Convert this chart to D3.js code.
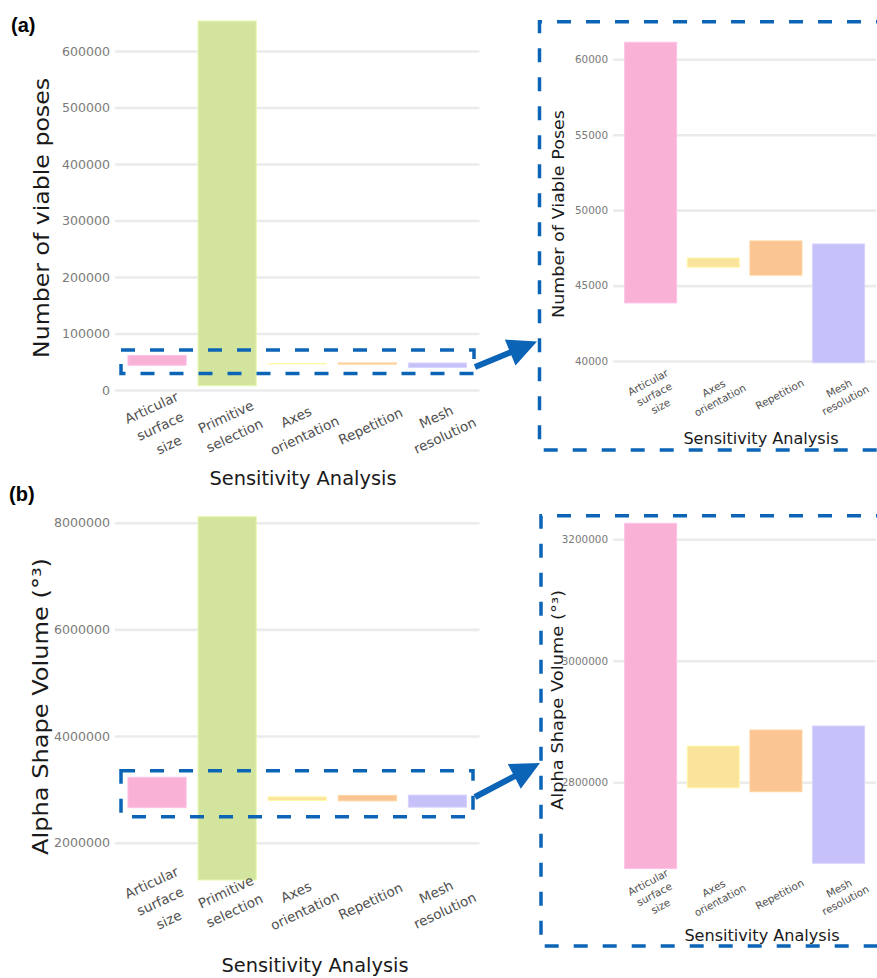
<!DOCTYPE html>
<html>
<head>
<meta charset="utf-8">
<script src="https://cdn.jsdelivr.net/npm/d3@7"></script>
<style>
  body { margin: 0; background: #fff; }
  svg { display: block; }
</style>
</head>
<body>
<svg id="fig" width="877" height="978"></svg>
<script>
// Sensitivity analysis: ranges (min..max) of viable poses and alpha-shape volume
const categories = ["Articular surface size", "Primitive selection", "Axes orientation", "Repetition", "Mesh resolution"];
const categoryLines = [["Articular", "surface", "size"], ["Primitive", "selection"], ["Axes", "orientation"], ["Repetition"], ["Mesh", "resolution"]];
const barColors = ["#F9B1D6", "#D3E49F", "#FAE39B", "#FAC493", "#C6C1F9"];

const posesLow  = [43850,   7600, 46220, 45690, 39880];
const posesHigh = [61130, 653100, 46830, 47960, 47760];
const volumeLow  = [2658000, 1300600, 2791000, 2784500, 2666700];
const volumeHigh = [3226300, 8112500, 2859700, 2886100, 2892700];

const posesTicksFull = [0, 100000, 200000, 300000, 400000, 500000, 600000];
const posesTicksZoom = [40000, 45000, 50000, 55000, 60000];
const volumeTicksFull = [2000000, 4000000, 6000000, 8000000];
const volumeTicksZoom = [2800000, 3000000, 3200000];

const allIdx = [0, 1, 2, 3, 4];
const zoomIdx = [0, 2, 3, 4];   // detail view leaves out "Primitive selection"

const FONT = "'DejaVu Sans', sans-serif";
const BLUE = "#0C64B6";

const panels = [
  { low: posesLow, high: posesHigh, keep: allIdx, ticks: posesTicksFull,
    yRef: [0, 600000], yPix: [390, 51], x0: 115, x1: 479.5,
    tickFs: 12.6, catFs: 13.5, catLh: 20.5, catAngle: 25, catDx: 3, catY: 426,
    titleFs: 19.4, titleX: 303, titleY: 485,
    yTitle: "Number of viable poses", yTitleFs: 22, yTitleLen: 280, yTitleX: 41, yTitleY: 218 },
  { low: posesLow, high: posesHigh, keep: zoomIdx, ticks: posesTicksZoom,
    yRef: [40000, 60000], yPix: [361, 59.3], x0: 613, x1: 876.2,
    tickFs: 10.4, catFs: 10.4, catLh: 13.5, catAngle: 28, catDx: 3.5, catY: 394,
    titleFs: 16.1, titleX: 761, titleY: 444,
    yTitle: "Number of Viable Poses", yTitleFs: 16, yTitleLen: 208, yTitleX: 558, yTitleY: 214 },
  { low: volumeLow, high: volumeHigh, keep: allIdx, ticks: volumeTicksFull,
    yRef: [2000000, 8000000], yPix: [842.7, 522.7], x0: 115, x1: 479.5,
    tickFs: 12.6, catFs: 13.5, catLh: 20.5, catAngle: 25, catDx: 3, catY: 901,
    titleFs: 19.4, titleX: 315, titleY: 972,
    yTitle: "Alpha Shape Volume (°³)", yTitleFs: 22, yTitleLen: 297, yTitleX: 40, yTitleY: 706.5 },
  { low: volumeLow, high: volumeHigh, keep: zoomIdx, ticks: volumeTicksZoom,
    yRef: [2800000, 3200000], yPix: [782.3, 539.3], x0: 613, x1: 876.2,
    tickFs: 10.4, catFs: 10.4, catLh: 13.5, catAngle: 28, catDx: 3.5, catY: 894,
    titleFs: 16.1, titleX: 762, titleY: 941,
    yTitle: "Alpha Shape Volume (°³)", yTitleFs: 16, yTitleLen: 220, yTitleX: 557, yTitleY: 700 }
];

const svg = d3.select("#fig");

function drawPanel(p) {
  const g = svg.append("g");
  const cats = p.keep.map(i => categories[i]);
  const x = d3.scaleBand().domain(cats).range([p.x0, p.x1])
    .paddingInner(0.17).paddingOuter(0.185);
  const y = d3.scaleLinear().domain(p.yRef).range(p.yPix);

  // horizontal grid + tick labels
  const ax = g.append("g").attr("transform", `translate(${p.x0},0)`)
    .call(d3.axisLeft(y).tickValues(p.ticks).tickFormat(d3.format("d"))
      .tickSize(-(p.x1 - p.x0)).tickPadding(5));
  ax.select(".domain").remove();
  ax.selectAll(".tick line").attr("stroke", "#EBEBEB").attr("stroke-width", 2.6);
  ax.selectAll(".tick text").attr("fill", "#7A7A7A")
    .style("font-family", FONT).style("font-size", p.tickFs + "px");

  // floating bars: low..high for each factor
  const rows = p.keep.map(i => ({ cat: categories[i], lo: p.low[i], hi: p.high[i], color: barColors[i] }));
  g.append("g").selectAll("rect").data(rows).join("rect")
    .attr("x", d => x(d.cat))
    .attr("width", x.bandwidth())
    .attr("y", d => y(d.hi))
    .attr("height", d => y(d.lo) - y(d.hi))
    .attr("fill", d => d.color)
    .attr("stroke", d => d3.color(d.color).brighter(0.25))
    .attr("stroke-width", 1);

  // rotated, multi-line category labels
  const lab = g.append("g").selectAll("text").data(p.keep).join("text")
    .attr("transform", i => `translate(${x(categories[i]) + x.bandwidth() / 2 + p.catDx},${p.catY}) rotate(${-p.catAngle})`)
    .attr("text-anchor", "middle")
    .attr("dominant-baseline", "central")
    .attr("fill", "#505050")
    .style("font-family", FONT).style("font-size", p.catFs + "px");
  lab.each(function (i) {
    const lines = categoryLines[i];
    const n = lines.length;
    d3.select(this).selectAll("tspan").data(lines).join("tspan")
      .attr("x", 0)
      .attr("y", (d, k) => (k - (n - 1) / 2) * p.catLh)
      .text(d => d);
  });

  // axis titles
  g.append("text").attr("x", p.titleX).attr("y", p.titleY)
    .attr("text-anchor", "middle").attr("fill", "#1a1a1a")
    .style("font-family", FONT).style("font-size", p.titleFs + "px")
    .text("Sensitivity Analysis");
  g.append("text")
    .attr("transform", `translate(${p.yTitleX},${p.yTitleY}) rotate(-90)`)
    .attr("text-anchor", "middle").attr("dominant-baseline", "central")
    .attr("textLength", p.yTitleLen).attr("lengthAdjust", "spacingAndGlyphs")
    .attr("fill", "#1a1a1a")
    .style("font-family", FONT).style("font-size", p.yTitleFs + "px")
    .text(p.yTitle);
}

panels.forEach(drawPanel);

// dashed zoom frames
const dash = { stroke: BLUE, "stroke-width": 3.5, "stroke-dasharray": "14 15", fill: "none" };
function dashed(sel) { Object.entries(dash).forEach(([k, v]) => sel.attr(k, v)); return sel; }

dashed(svg.append("rect").attr("x", 121).attr("y", 350).attr("width", 353).attr("height", 23.5));
dashed(svg.append("rect").attr("x", 121).attr("y", 770.7).attr("width", 352).attr("height", 46));
dashed(svg.append("path").attr("d", "M890,21.7 H539.5 V450 H890"));
dashed(svg.append("path").attr("d", "M890,515.7 H541 V946 H890"));

// arrows from the small frames to the detail views
function arrowPoints(x0, y0, x1, y1, sw, hl, hw) {
  const dx = x1 - x0, dy = y1 - y0, L = Math.hypot(dx, dy);
  const ux = dx / L, uy = dy / L, nx = -uy, ny = ux;
  const bx = x1 - ux * hl, by = y1 - uy * hl;
  return [
    [x0 + nx * sw / 2, y0 + ny * sw / 2],
    [bx + nx * sw / 2, by + ny * sw / 2],
    [bx + nx * hw / 2, by + ny * hw / 2],
    [x1, y1],
    [bx - nx * hw / 2, by - ny * hw / 2],
    [bx - nx * sw / 2, by - ny * sw / 2],
    [x0 - nx * sw / 2, y0 - ny * sw / 2]
  ].map(p => p.join(",")).join(" ");
}
svg.append("polygon").attr("points", arrowPoints(475, 367, 537, 341.5, 6, 29, 28)).attr("fill", BLUE);
svg.append("polygon").attr("points", arrowPoints(475, 797, 540, 763, 6, 29, 28)).attr("fill", BLUE);

// panel tags
const tagFont = "'Liberation Sans', Arial, sans-serif";
svg.append("text").attr("x", 11).attr("y", 32).text("(a)")
  .style("font-family", tagFont).style("font-size", "20px").style("font-weight", "bold");
svg.append("text").attr("x", 9).attr("y", 501).text("(b)")
  .style("font-family", tagFont).style("font-size", "20px").style("font-weight", "bold");
</script>
</body>
</html>
